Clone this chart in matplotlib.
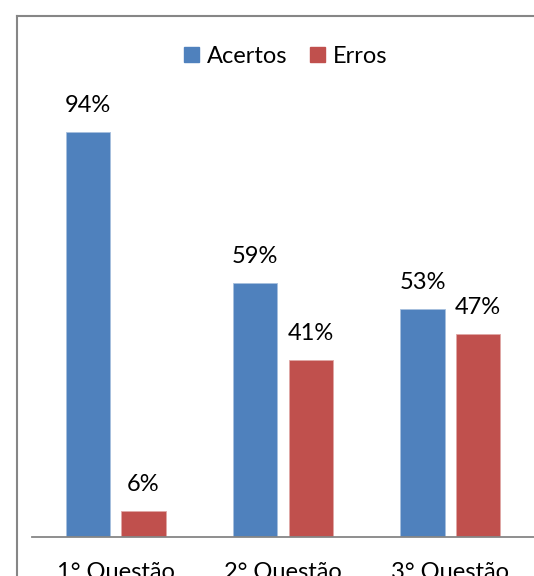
import matplotlib
matplotlib.use("Agg")
import matplotlib.pyplot as plt
import numpy as np
from matplotlib.lines import Line2D
from matplotlib.patches import Patch

# Results per question (percent)
questoes = ["1° Questão", "2° Questão", "3° Questão"]
acertos = [94, 59, 53]
erros = [6, 41, 47]

BLUE = "#4F81BD"
RED = "#C0504D"
GRAY = "#868686"

plt.rcParams["font.family"] = ["Lato", "DejaVu Sans"]

fig = plt.figure(figsize=(5.34, 5.76), dpi=100)
ax = fig.add_axes([32 / 534, 39 / 576, 1 - 32 / 534, (537 - 106) / 576])

x = np.arange(len(questoes))
w = 0.266
off = 0.166
b1 = ax.bar(x - off, acertos, w, color=BLUE, edgecolor="#A7BFDE", linewidth=0.6)
b2 = ax.bar(x + off, erros, w, color=RED, edgecolor="#DFA7A6", linewidth=0.6)

for bars, vals in ((b1, acertos), (b2, erros)):
    for rect, v in zip(bars, vals):
        ax.annotate(f"{v}%", (rect.get_x() + rect.get_width() / 2, v),
                    xytext=(0, 11.5), textcoords="offset points",
                    ha="center", va="bottom", fontsize=17, color="black")

ax.set_xlim(-0.5, 2.5)
ax.set_ylim(0, 100)
ax.set_xticks(x)
ax.set_xticklabels(questoes, fontsize=17)
ax.tick_params(axis="x", length=0, pad=18)
ax.set_yticks([])
for s in ("top", "right", "left"):
    ax.spines[s].set_visible(False)
ax.spines["bottom"].set_color(GRAY)
ax.spines["bottom"].set_linewidth(1.3)

# chart area border (left and top edges)
fy = 1 - 15.7 / 576
fx = 16.5 / 534
fig.add_artist(Line2D([fx, fx], [0, fy], color=GRAY, lw=1.5, transform=fig.transFigure))
fig.add_artist(Line2D([fx, 1], [fy, fy], color=GRAY, lw=1.5, transform=fig.transFigure))

handles = [Patch(color=BLUE, label="Acertos"), Patch(color=RED, label="Erros")]
fig.legend(handles=handles, loc="center", bbox_to_anchor=(286 / 534, 1 - 56.5 / 576),
           ncol=2, frameon=False, fontsize=17, handlelength=0.62, handleheight=0.62,
           handletextpad=0.35, columnspacing=0.95)

fig.savefig("out.png", dpi=100)
